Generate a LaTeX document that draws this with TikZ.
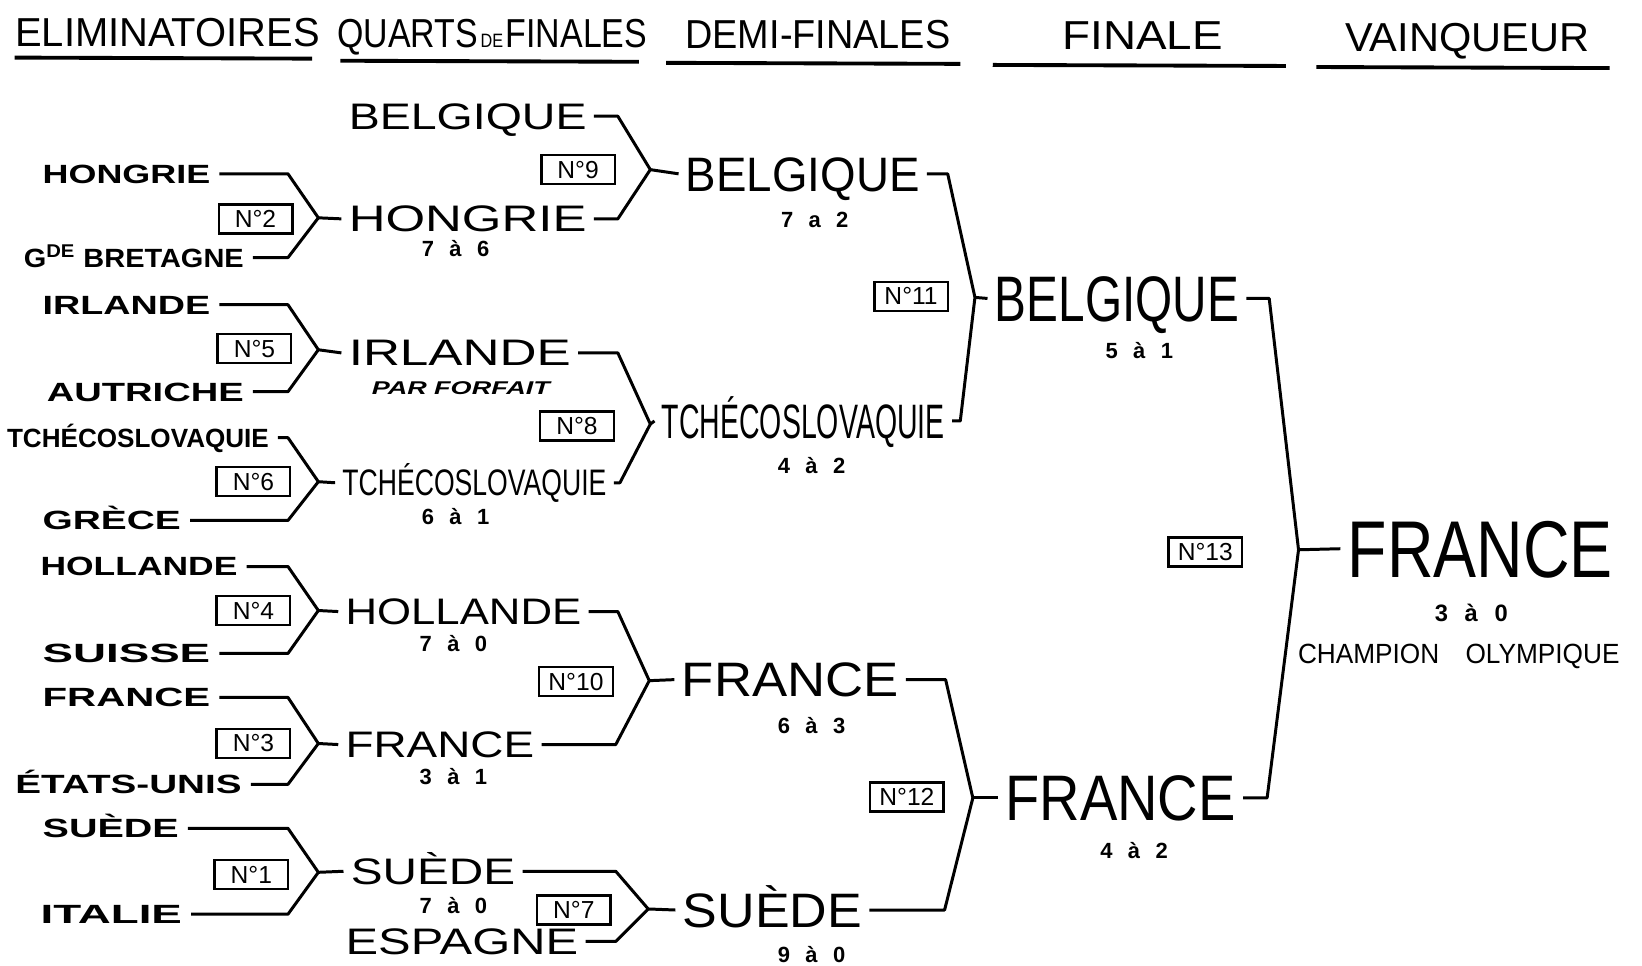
\documentclass[tikz,border=0pt]{standalone}
\usepackage{fontspec}
\setmainfont{Liberation Sans}
\usepackage{graphicx}

\newlength{\px}
\setlength{\px}{0.02094cm}
% stretch or squeeze a name to the width it takes on the sheet
\newcommand{\fitto}[2]{\resizebox{#1\px}{\height}{#2}}
% a result, spaced out as on the sheet
\newcommand{\res}[3]{#1\hspace{0.7em}#2\hspace{0.7em}#3}

\tikzset{
  head/.style={font=\fontsize{23}{23}\selectfont, text height=16.7pt, text depth=0pt, inner sep=0pt},
  rule/.style={line width=2.2pt},
  elim/.style={anchor=west, font=\bfseries\fontsize{15}{15}\selectfont, text height=10.7pt, text depth=0pt, inner xsep=5pt, inner ysep=0pt},
  quart/.style={anchor=west, font=\fontsize{21}{21}\selectfont, text height=14.9pt, text depth=0pt, inner xsep=4pt, inner ysep=0pt},
  demi/.style={anchor=west, font=\fontsize{27.5}{27.5}\selectfont, text height=19.7pt, text depth=0pt, inner xsep=4pt, inner ysep=0pt},
  fin/.style={anchor=west, font=\fontsize{36.6}{36.6}\selectfont, text height=26.2pt, text depth=0pt, inner xsep=4pt, inner ysep=0pt},
  champ/.style={anchor=west, font=\fontsize{45.8}{45.8}\selectfont, text height=32.8pt, text depth=0pt, inner xsep=4pt, inner ysep=0pt},
  score/.style={font=\bfseries\fontsize{12.5}{12.5}\selectfont, inner sep=0pt},
  numbox/.style={draw, line width=1.4pt, font=\fontsize{14}{14}\selectfont, minimum width=1.47cm, minimum height=0.58cm, inner sep=1pt},
  bracket/.style={line width=1.7pt, line join=round}
}

\begin{document}
\begin{tikzpicture}[x=0.02094cm, y=-0.02094cm]
  \useasboundingbox (0,0) rectangle (1568,922);

  % Column headings, each underlined
  \node[head] (hElim) at (160,30) {\fitto{291}{ELIMINATOIRES}};
  \node[head] (hQuart) at (470,31) {\fitto{296}{QUARTS{\fontsize{11}{11}\selectfont\,DE\,}FINALES}};
  \node[head] (hDemi) at (781,32) {\fitto{253}{DEMI-FINALES}};
  \node[head] (hFin) at (1091,33) {\fitto{153}{FINALE}};
  \node[head] (hVain) at (1401,35) {\fitto{233}{VAINQUEUR}};
  \draw[rule] (14,55) -- (298,56);
  \draw[rule] (325,58) -- (610,59);
  \draw[rule] (636,60) -- (917,61);
  \draw[rule] (948,62) -- (1228,63);
  \draw[rule] (1257,64) -- (1537,65);

  % Eliminatoires: the twelve teams
  \node[elim] (hon1) at (32,166) {\fitto{160}{HONGRIE}};
  \node[elim] (gbr1) at (14,246) {\fitto{210}{G\textsuperscript{DE} BRETAGNE}};
  \node[elim] (irl1) at (32,291) {\fitto{160}{IRLANDE}};
  \node[elim] (aut1) at (36,374) {\fitto{188}{AUTRICHE}};
  \node[elim] (tch1) at (-2,418) {\fitto{250}{TCHÉCOSLOVAQUIE}};
  \node[elim] (gre1) at (32,497) {\fitto{132}{GRÈCE}};
  \node[elim] (hol1) at (30,541) {\fitto{188}{HOLLANDE}};
  \node[elim] (sui1) at (32,624) {\fitto{160}{SUISSE}};
  \node[elim] (fra1) at (32,666) {\fitto{160}{FRANCE}};
  \node[elim] (usa1) at (6,749) {\fitto{216}{ÉTATS-UNIS}};
  \node[elim] (sue1) at (32,791) {\fitto{130}{SUÈDE}};
  \node[elim] (ita1) at (30,873) {\fitto{135}{ITALIE}};

  % Match numbers of the first round
  \node[numbox] (m2) at (244,209) {N°2};
  \node[numbox] (m5) at (243,333) {N°5};
  \node[numbox] (m6) at (242,460) {N°6};
  \node[numbox] (m4) at (242,583) {N°4};
  \node[numbox] (m3) at (242,710) {N°3};
  \node[numbox] (m1) at (240,835) {N°1};

  % Quarts de finales: winners and the two teams that came in here
  \node[quart] (bel2) at (326,111) {\fitto{227}{BELGIQUE}};
  \node[quart] (hon2) at (326,209) {\fitto{227}{HONGRIE}};
  \node[quart] (irl2) at (326,337) {\fitto{212}{IRLANDE}};
  \node[quart] (tch2) at (320,461) {\fitto{252}{TCHÉCOSLOVAQUIE}};
  \node[quart] (hol2) at (323,584) {\fitto{225}{HOLLANDE}};
  \node[quart] (fra2) at (323,711) {\fitto{180}{FRANCE}};
  \node[quart] (sue2) at (328,832) {\fitto{157}{SUÈDE}};
  \node[quart] (esp2) at (323,899) {\fitto{222}{ESPAGNE}};

  \node[score] (s2) at (435,237) {\res{7}{à}{6}};
  \node[score, font=\bfseries\itshape\fontsize{10.5}{10.5}\selectfont] (s5) at (440,371) {\fitto{170}{PAR FORFAIT}};
  \node[score] (s6) at (435,493) {\res{6}{à}{1}};
  \node[score] (s4) at (433,615) {\res{7}{à}{0}};
  \node[score] (s3) at (433,742) {\res{3}{à}{1}};
  \node[score] (s1) at (433,865) {\res{7}{à}{0}};

  % First round brackets
  \coordinate (a2) at (304,208);
  \coordinate (a5) at (304,334);
  \coordinate (a6) at (304,460);
  \coordinate (a4) at (304,583);
  \coordinate (a3) at (304,710);
  \coordinate (a1) at (304,833);
  \draw[bracket] (hon1.east) -- (275,166) -- (a2) -- (275,246) -- (gbr1.east);
  \draw[bracket] (a2) -- (hon2.west);
  \draw[bracket] (irl1.east) -- (275,291) -- (a5) -- (275,374) -- (aut1.east);
  \draw[bracket] (a5) -- (irl2.west);
  \draw[bracket] (tch1.east) -- (275,418) -- (a6) -- (275,497) -- (gre1.east);
  \draw[bracket] (a6) -- (tch2.west);
  \draw[bracket] (hol1.east) -- (275,541) -- (a4) -- (275,624) -- (sui1.east);
  \draw[bracket] (a4) -- (hol2.west);
  \draw[bracket] (fra1.east) -- (275,666) -- (a3) -- (275,749) -- (usa1.east);
  \draw[bracket] (a3) -- (fra2.west);
  \draw[bracket] (sue1.east) -- (275,791) -- (a1) -- (275,873) -- (ita1.east);
  \draw[bracket] (a1) -- (sue2.west);

  % Quarter final match numbers
  \node[numbox] (m9) at (552,162) {N°9};
  \node[numbox] (m8) at (551,407) {N°8};
  \node[numbox] (m10) at (550,651) {N°10};
  \node[numbox] (m7) at (548,869) {N°7};

  % Demi-finales
  \node[demi] (bel3) at (648,166) {\fitto{223}{BELGIQUE}};
  \node[demi] (tch3) at (625,402) {\fitto{270}{TCHÉCOSLOVAQUIE}};
  \node[demi] (fra3) at (644,649) {\fitto{207}{FRANCE}};
  \node[demi] (sue3) at (645,869) {\fitto{171}{SUÈDE}};

  \node[score] (s9) at (778,210) {\res{7}{a}{2}};
  \node[score] (s8) at (775,445) {\res{4}{à}{2}};
  \node[score] (s10) at (775,693) {\res{6}{à}{3}};
  \node[score] (s7) at (775,912) {\res{9}{à}{0}};

  \coordinate (a9) at (621,162);
  \coordinate (a8) at (621,405);
  \coordinate (a10) at (620,650);
  \coordinate (a7) at (619,868);
  \draw[bracket] (bel2.east) -- (590,111) -- (a9) -- (590,209) -- (hon2.east);
  \draw[bracket] (a9) -- (bel3.west);
  \draw[bracket] (irl2.east) -- (590,337) -- (a8) -- (592,461) -- (tch2.east);
  \draw[bracket] (a8) -- (tch3.west);
  \draw[bracket] (hol2.east) -- (590,584) -- (a10) -- (588,711) -- (fra2.east);
  \draw[bracket] (a10) -- (fra3.west);
  \draw[bracket] (sue2.east) -- (588,832) -- (a7) -- (588,899) -- (esp2.east);
  \draw[bracket] (a7) -- (sue3.west);

  % Semi final match numbers
  \node[numbox] (m11) at (870,283) {N°11};
  \node[numbox] (m12) at (866,761) {N°12};

  % Finale
  \node[fin] (bel4) at (943,285) {\fitto{233}{BELGIQUE}};
  \node[fin] (fra4) at (953,762) {\fitto{220}{FRANCE}};
  \node[score] (s11) at (1088,335) {\res{5}{à}{1}};
  \node[score] (s12) at (1083,812) {\res{4}{à}{2}};

  \coordinate (a11) at (931,284);
  \coordinate (a12) at (929,762);
  \draw[bracket] (bel3.east) -- (905,166) -- (a11) -- (917,402) -- (tch3.east);
  \draw[bracket] (a11) -- (bel4.west);
  \draw[bracket] (fra3.east) -- (903,649) -- (a12) -- (902,869) -- (sue3.east);
  \draw[bracket] (a12) -- (fra4.west);

  % Vainqueur
  \node[numbox] (m13) at (1151,527) {N°13};
  \node[champ] (fra5) at (1280,524) {\fitto{253}{FRANCE}};
  \node[score, font=\bfseries\fontsize{13.5}{13.5}\selectfont] (s13) at (1405,585) {\res{3}{à}{0}};
  \node[font=\fontsize{15.8}{15.8}\selectfont, inner sep=0pt] (titre) at (1393,627) {\fitto{307}{CHAMPION\quad OLYMPIQUE}};

  \coordinate (a13) at (1240,525);
  \draw[bracket] (bel4.east) -- (1212,285) -- (a13) -- (1210,762) -- (fra4.east);
  \draw[bracket] (a13) -- (fra5.west);
\end{tikzpicture}
\end{document}
